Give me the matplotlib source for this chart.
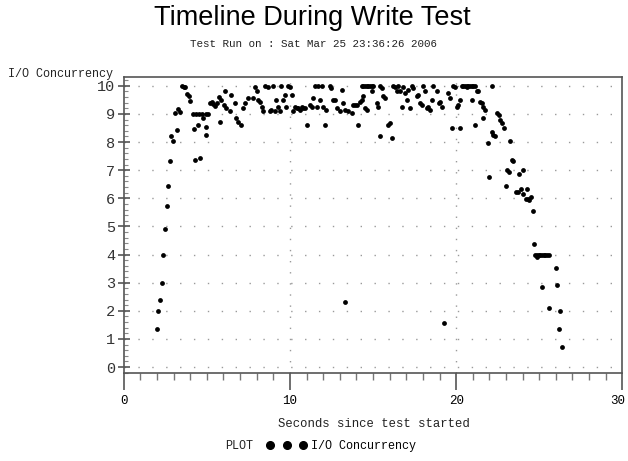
import matplotlib
matplotlib.use("Agg")
import matplotlib.pyplot as plt
from matplotlib.lines import Line2D
from matplotlib.ticker import MultipleLocator
from matplotlib.transforms import ScaledTranslation

title = "Timeline During Write Test"
subtitle = "Test Run on : Sat Mar 25 23:36:26 2006"
ylabel = "I/O Concurrency"
xlabel = "Seconds since test started"
series_name = "I/O Concurrency"

seconds = [
    1.99, 2.09, 2.19, 2.29, 2.39, 2.49, 2.59, 2.69, 2.77, 2.87, 2.97, 3.07, 3.21, 3.27, 3.39,
    3.53, 3.60, 3.67, 3.81, 3.90, 3.98, 4.14, 4.24, 4.26, 4.34, 4.48, 4.54, 4.56, 4.74, 4.78,
    4.94, 4.98, 4.94, 5.08, 5.18, 5.30, 5.38, 5.48, 5.60, 5.72, 5.78, 5.88, 6.02,
    6.08, 6.18, 6.38, 6.48, 6.68, 6.78, 6.88, 7.04, 7.18, 7.28, 7.49, 7.79, 7.89, 7.99, 8.09,
    8.19, 8.29, 8.39, 8.49, 8.69, 8.79, 8.89, 8.99, 9.09, 9.19, 9.29, 9.39, 9.49, 9.59, 9.69,
    9.79, 9.90, 10.0, 10.1, 10.2, 10.3, 10.4, 10.5, 10.6, 10.7, 10.8, 10.9, 11.0, 11.2, 11.3,
    11.4, 11.5, 11.6, 11.7, 11.8, 11.9, 12.0, 12.1, 12.2, 12.4, 12.5, 12.6,
    12.71, 12.81, 13.01, 13.11, 13.21, 13.31, 13.51, 13.72, 13.82, 13.92, 14.02, 14.12, 14.22,
    14.32, 14.42, 14.32, 14.42, 14.52, 14.62, 14.72, 14.82, 14.92, 15.02, 14.92, 14.52, 14.62,
    15.22, 15.32, 15.42, 15.52, 15.62, 15.72, 15.42, 15.92, 16.02, 16.12, 16.22, 16.33, 16.43,
    16.53, 16.63, 16.73, 16.83, 16.93, 17.03, 17.13, 17.23, 17.33, 17.43, 17.63, 17.73, 17.83,
    17.93, 18.03, 18.13, 18.23, 18.33, 18.43, 18.53, 18.63, 18.84, 18.94,
    19.03, 19.13, 19.53, 19.63, 19.83, 19.93, 20.04, 20.14, 20.24, 19.73, 20.24, 20.34, 20.44,
    20.54, 20.64, 20.74, 20.84, 20.94, 21.04, 21.14, 20.64, 20.94, 21.24, 21.34, 21.14, 21.44,
    21.54, 21.64, 21.74, 21.64, 22.14, 22.45, 22.55, 22.65, 22.75, 22.85, 22.14, 22.24, 22.34,
    21.94, 23.25,
    22.00, 23.05, 23.20, 23.35, 23.42, 23.80, 24.00, 23.00, 23.60, 23.70, 23.90, 24.05, 24.25,
    24.20, 24.30, 24.40, 24.50, 24.60, 24.68, 24.76, 24.86, 24.96, 25.06, 25.16, 25.26, 25.36,
    25.46, 25.56, 24.85, 25.98, 25.18, 26.06, 25.58, 26.27, 26.17, 26.37, 19.28, 13.29,
]
concurrency = [
    1.35, 1.99, 2.37, 2.98, 3.99, 4.91, 5.73, 6.42, 7.33, 8.22, 8.05, 9.05, 8.43, 9.17, 9.06,
    10.0, 9.97, 9.95, 9.71, 9.64, 9.47, 9.00, 8.46, 7.35, 9.00, 8.59, 9.00, 7.43, 9.00, 8.85,
    8.55, 8.26, 9.00, 9.00, 9.38, 9.43, 9.35, 9.28, 9.40, 9.60, 8.73, 9.50, 9.30,
    9.80, 9.20, 9.09, 9.68, 9.38, 8.85, 8.73, 8.61, 9.20, 9.38, 9.56, 9.56, 9.97, 9.80, 9.50,
    9.44, 9.26, 9.09, 10.0, 9.97, 9.09, 9.14, 10.0, 9.09, 9.50, 9.26, 9.09, 10.0, 9.50, 9.68,
    9.26, 10.0, 9.97, 9.68, 9.09, 9.26, 9.20, 9.20, 9.14, 9.26, 9.20, 9.20, 8.61, 9.32, 9.26,
    9.56, 10.0, 9.26, 10.0, 9.50, 10.0, 9.26, 8.61, 9.14, 10.0, 9.92, 9.50,
    9.50, 9.20, 9.09, 9.86, 9.38, 9.14, 9.09, 9.03, 9.32, 9.32, 9.32, 8.61, 9.44,
    9.50, 9.62, 10.0, 10.0, 10.0, 10.0, 10.0, 10.0, 10.0, 10.0, 9.80, 9.20, 9.14,
    9.38, 9.26, 10.0, 9.92, 9.62, 9.56, 8.20, 8.61, 8.67, 8.14, 10.0, 9.97, 9.80,
    10.0, 9.80, 9.26, 9.97, 9.74, 9.50, 9.86, 9.20, 10.0, 9.92, 9.62, 9.68, 9.38,
    9.32, 10.0, 9.80, 9.20, 9.26, 9.14, 9.50, 10.0, 9.80, 9.38,
    9.44, 9.26, 9.74, 9.56, 10.0, 9.97, 9.26, 9.32, 9.50, 8.49, 8.49, 10.0, 10.0,
    10.0, 10.0, 10.0, 10.0, 10.0, 10.0, 10.0, 9.97, 9.50, 9.80, 9.80, 8.61, 9.44,
    9.38, 9.26, 9.14, 8.85, 10.0, 9.03, 8.97, 8.79, 8.67, 8.49, 8.37, 8.26, 8.20,
    7.96, 8.02,
    6.77, 7.01, 6.94, 7.37, 7.34, 6.87, 7.01, 6.42, 6.23, 6.23, 6.33, 6.15, 6.33,
    5.97, 5.97, 5.95, 6.04, 5.55, 4.38, 4.00, 4.00, 4.00, 4.00, 4.00, 4.00, 4.00,
    4.00, 4.00, 3.93, 3.51, 2.86, 2.92, 2.10, 1.98, 1.34, 0.70, 1.55, 2.30,
]

x_ticks = [0, 10, 20, 30]
y_ticks = list(range(0, 11))

mono = "Liberation Mono"

fig = plt.figure(figsize=(6.28, 4.61), dpi=100)
ax = fig.add_axes([0.197, 0.191, 0.794, 0.643])

ax.scatter(seconds, concurrency, s=12, color="black", marker="o", linewidths=0, zorder=3)

ax.set_xlim(0, 30)
ax.set_ylim(-0.21, 10.33)
ax.set_xticks(x_ticks)
ax.set_yticks(y_ticks)
ax.xaxis.set_minor_locator(MultipleLocator(1))
ax.yaxis.set_minor_locator(MultipleLocator(0.2))

for y in y_ticks:
    ax.axhline(y, color="#9a9a9a", linestyle=(0, (1, 9)), linewidth=1.0, zorder=1)
for x in [10, 20]:
    ax.axvline(x, color="#9a9a9a", linestyle=(0, (1, 7)), linewidth=1.0, zorder=1)

for sp in ax.spines.values():
    sp.set_color("#555555")
    sp.set_linewidth(1.2)

ax.tick_params(axis="x", which="major", direction="out", length=12, width=1.2,
               color="#555555", labelsize=9, pad=4)
ax.tick_params(axis="x", which="minor", direction="out", length=5, width=1.0, color="#777777")
ax.tick_params(axis="y", which="major", direction="inout", length=8, width=1.2,
               color="#555555", labelsize=11, pad=2)
ax.tick_params(axis="y", which="minor", direction="in", length=3, width=0.8, color="#888888")
for lab in ax.get_xticklabels() + ax.get_yticklabels():
    lab.set_fontfamily(mono)
for lab in ax.get_yticklabels():
    lab.set_fontsize(11)
    lab.set_color("#333333")
xlabs = ax.get_xticklabels()
xlabs[-1].set_transform(xlabs[-1].get_transform()
                        + ScaledTranslation(-5 / 100, 0, fig.dpi_scale_trans))

fig.text(0.497, 0.961, title, ha="center", va="center", fontsize=19.5,
         family="Liberation Sans", color="black")
fig.text(0.5, 0.905, subtitle, ha="center", va="center", fontsize=7.8,
         family=mono, color="#222222")
fig.text(0.012, 0.840, ylabel, ha="left", va="center", fontsize=8.5,
         family=mono, color="#222222")
fig.text(0.595, 0.080, xlabel, ha="center", va="center", fontsize=8.8,
         family=mono, color="#222222")
fig.text(0.358, 0.033, "PLOT", ha="left", va="center", fontsize=8.5,
         family=mono, color="#222222")

handle = Line2D([], [], marker="o", linestyle="none", color="black", markersize=5.5)
fig.legend([handle], [series_name], loc="center left", bbox_to_anchor=(0.425, 0.033),
           numpoints=3, frameon=False, handlelength=3.4, handletextpad=0.35,
           borderpad=0, borderaxespad=0,
           prop={"family": mono, "size": 8.5})

fig.savefig("out.png", dpi=100)
